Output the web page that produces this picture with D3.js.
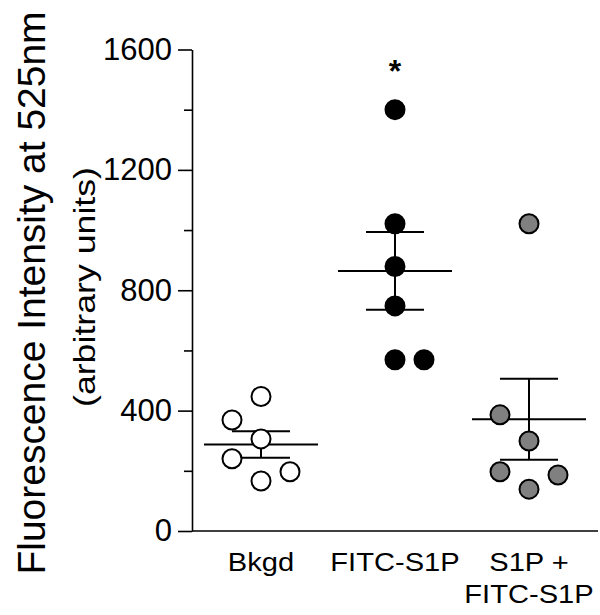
<!DOCTYPE html>
<html>
<head>
<meta charset="utf-8">
<style>
html, body { margin: 0; padding: 0; background: #fff; }
svg { display: block; font-family: 'Liberation Sans', Arial, sans-serif; }
.axis path, .axis line { stroke: #000; stroke-width: 1.6; }
.axis text { font-size: 31px; fill: #000; font-family: 'Liberation Sans', Arial, sans-serif; }
.mean { stroke: #000; stroke-width: 2; }
.dot { stroke: #000; stroke-width: 2; }
</style>
</head>
<body>
<script src="https://cdn.jsdelivr.net/npm/d3@7"></script>
<script>
var width = 600
var height = 615

var groups = ['Bkgd', 'FITC-S1P', 'S1P + FITC-S1P']
var groupLabels = [['Bkgd'], ['FITC-S1P'], ['S1P +', 'FITC-S1P']]
var groupFill = ['#ffffff', '#000000', '#808080']

var bkgdValues = [447, 369, 306, 240, 197, 166]
var fitcValues = [1400, 1021, 879, 748, 569, 569]
var s1pValues = [1021, 386, 299, 197, 186, 139]

// horizontal slot of each dot (-1 left, 0 centre, 1 right)
var bkgdSlots = [0, -1, 0, -1, 1, 0]
var fitcSlots = [0, 0, 0, 0, 0, 1]
var s1pSlots = [0, -1, 0, -1, 1, 0]

var majorTicks = [0, 400, 800, 1200, 1600]
var minorTicks = [200, 600, 1000, 1400]
var significant = ['FITC-S1P']

var series = [
    { name: groups[0], values: bkgdValues, slots: bkgdSlots, fill: groupFill[0] },
    { name: groups[1], values: fitcValues, slots: fitcSlots, fill: groupFill[1] },
    { name: groups[2], values: s1pValues, slots: s1pSlots, fill: groupFill[2] }
]

var svg = d3.select('body').append('svg')
    .attr('width', width)
    .attr('height', height)

var y = d3.scaleLinear().domain([0, 1600]).range([531, 49.5])
var x = d3.scalePoint().domain(groups).range([261, 529])
var axisX = 192
var slotGap = 29
var meanHalf = 57
var capHalf = 29

// y axis, major and minor ticks
svg.append('g')
    .attr('class', 'axis')
    .attr('transform', 'translate(' + axisX + ',0)')
    .call(d3.axisLeft(y).tickValues(majorTicks).tickSize(14).tickSizeOuter(0).tickPadding(6).tickFormat(d3.format('d')))

svg.append('g')
    .attr('class', 'axis minor')
    .attr('transform', 'translate(' + axisX + ',0)')
    .call(d3.axisLeft(y).tickValues(minorTicks).tickSize(8).tickFormat(''))
    .select('.domain').remove()

// x axis baseline
svg.append('line')
    .attr('x1', axisX).attr('x2', 598)
    .attr('y1', y(0)).attr('y2', y(0))
    .attr('stroke', '#000').attr('stroke-width', 1.6)

// axis titles
svg.append('text')
    .attr('transform', 'translate(45,293) rotate(-90)')
    .attr('text-anchor', 'middle')
    .attr('font-size', 39)
    .attr('textLength', 563)
    .attr('lengthAdjust', 'spacingAndGlyphs')
    .text('Fluorescence Intensity at 525nm')

svg.append('text')
    .attr('transform', 'translate(95,287) rotate(-90)')
    .attr('text-anchor', 'middle')
    .attr('font-size', 30)
    .attr('textLength', 240)
    .attr('lengthAdjust', 'spacingAndGlyphs')
    .text('(arbitrary units)')

// category labels (slightly wide, as in the original)
var labels = svg.append('g')
groupLabels.forEach(function (lines, i) {
    lines.forEach(function (line, j) {
        labels.append('text')
            .attr('transform', 'translate(' + x(groups[i]) + ',' + (571 + j * 32) + ') scale(1.12,1)')
            .attr('text-anchor', 'middle')
            .attr('font-size', 26)
            .text(line)
    })
})

// mean and SEM
series.forEach(function (s) {
    var m = d3.mean(s.values)
    var sem = d3.deviation(s.values) / Math.sqrt(s.values.length)
    var cx = x(s.name)
    var g = svg.append('g')
    g.append('line').attr('class', 'mean')
        .attr('x1', cx).attr('x2', cx)
        .attr('y1', y(m - sem)).attr('y2', y(m + sem))
    g.append('line').attr('class', 'mean')
        .attr('x1', cx - meanHalf).attr('x2', cx + meanHalf)
        .attr('y1', y(m)).attr('y2', y(m))
    ;[m - sem, m + sem].forEach(function (v) {
        g.append('line').attr('class', 'mean')
            .attr('x1', cx - capHalf).attr('x2', cx + capHalf)
            .attr('y1', y(v)).attr('y2', y(v))
    })
})

// dots
series.forEach(function (s) {
    svg.append('g').selectAll('circle')
        .data(s.values)
        .enter().append('circle')
        .attr('class', 'dot')
        .attr('cx', function (d, i) { return x(s.name) + s.slots[i] * slotGap })
        .attr('cy', function (d) { return y(d) })
        .attr('r', 9.5)
        .attr('fill', s.fill)
})

// significance marker
significant.forEach(function (name) {
    var s = series.find(function (d) { return d.name === name })
    svg.append('text')
        .attr('x', x(name))
        .attr('y', y(d3.max(s.values)) - 28)
        .attr('text-anchor', 'middle')
        .attr('font-size', 32)
        .attr('font-weight', 'bold')
        .text('*')
})
</script>
</body>
</html>
